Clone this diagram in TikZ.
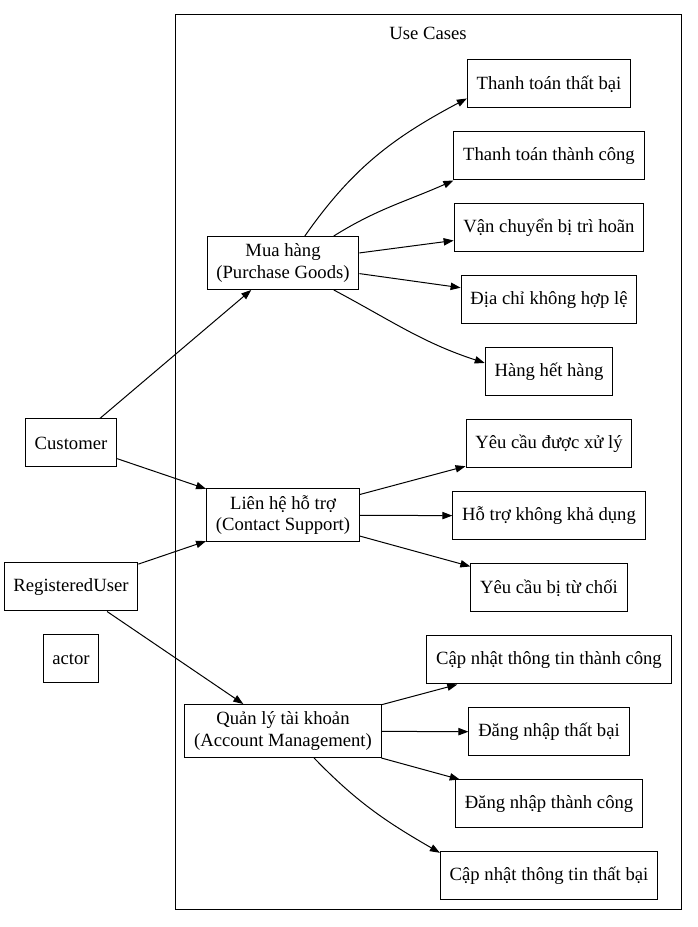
\documentclass[tikz,border=0pt]{standalone}
\usepackage{fontspec}
\setmainfont{Liberation Serif}
\usepackage{tikz}
\usetikzlibrary{arrows.meta, positioning, calc}
\tikzset{%
	box/.style={draw, rectangle, line width=0.75pt, minimum height=36pt, inner xsep=7pt,%
		font=\fontsize{14}{16}\selectfont},
	act/.style={box},
	uc/.style={box, align=center, inner ysep=5.5pt},
	res/.style={box},
	assoc/.style={line width=0.75pt, -{Triangle[length=7.5pt, width=5.5pt]}},
	cluster/.style={draw, line width=0.75pt}
}
\begin{document}
\begin{tikzpicture}[x=0.75pt, y=0.75pt, node distance=17.25pt]
	\useasboundingbox (0,0) rectangle (697,927);
	\draw[cluster] (175,17) rectangle (681,912);
	\node[font=\fontsize{14}{16}\selectfont] (title) at (428,894) {Use Cases};

	% actors
	\node[act] (cust) at (71,484) {Customer};
	\node[act] (reg) at (71,340) {RegisteredUser};
	\node[act, below=of reg] (actor) {actor};

	% use cases
	\node[uc] (buy) at (283,664) {Mua hàng\\(Purchase Goods)};
	\node[uc] (help) at (283,412) {Liên hệ hỗ trợ\\(Contact Support)};
	\node[uc] (acct) at (283,196) {Quản lý tài khoản\\(Account Management)};

	% outcomes
	\node[res] (payfail) at (549,843) {Thanh toán thất bại};
	\node[res, below=of payfail] (payok) {Thanh toán thành công};
	\node[res, below=of payok] (ship) {Vận chuyển bị trì hoãn};
	\node[res, below=of ship] (addr) {Địa chỉ không hợp lệ};
	\node[res, below=of addr] (stock) {Hàng hết hàng};
	\node[res, below=of stock] (reqok) {Yêu cầu được xử lý};
	\node[res, below=of reqok] (noagent) {Hỗ trợ không khả dụng};
	\node[res, below=of noagent] (reqno) {Yêu cầu bị từ chối};
	\node[res, below=of reqno] (updok) {Cập nhật thông tin thành công};
	\node[res, below=of updok] (loginfail) {Đăng nhập thất bại};
	\node[res, below=of loginfail] (loginok) {Đăng nhập thành công};
	\node[res, below=of loginok] (updfail) {Cập nhật thông tin thất bại};

	\draw[assoc] (cust) -- (buy);
	\draw[assoc] (cust) -- (help);
	\draw[assoc] (reg) -- (help);
	\draw[assoc] (reg) -- (acct);

	\draw[assoc] (buy.51) to[out=55, in=208] (payfail.190);
	\draw[assoc] (buy.28) to[out=32, in=204] (payok.south west);
	\draw[assoc] (buy) -- (ship);
	\draw[assoc] (buy) -- (addr);
	\draw[assoc] (buy.-28) to[out=-28, in=162] (stock.172);

	\draw[assoc] (help) -- (reqok);
	\draw[assoc] (help) -- (noagent);
	\draw[assoc] (help) -- (reqno);

	\draw[assoc] (acct) -- (updok);
	\draw[assoc] (acct) -- (loginfail);
	\draw[assoc] (acct) -- (loginok);
	\draw[assoc] (acct.-41) to[out=-46, in=150] (updfail.168);
\end{tikzpicture}
\end{document}
